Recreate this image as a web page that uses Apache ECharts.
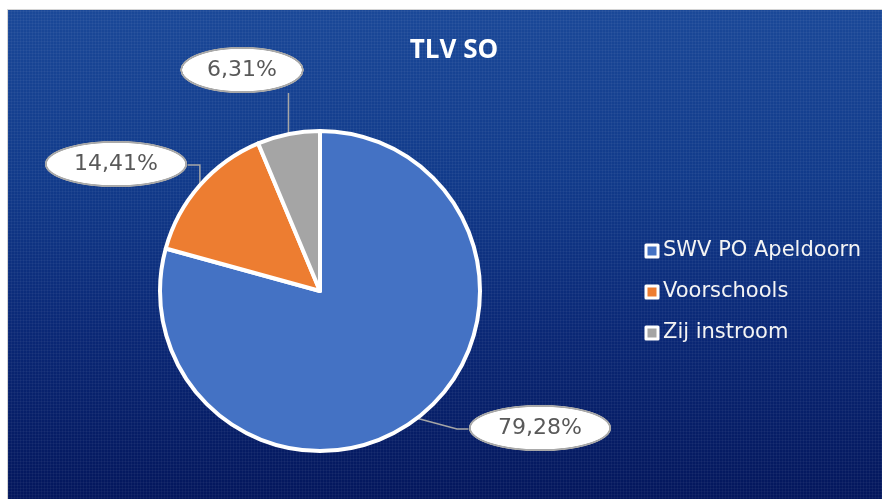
<!DOCTYPE html>
<html>
<head>
<meta charset="utf-8">
<script src="https://cdn.jsdelivr.net/npm/echarts@6/dist/echarts.min.js"></script>
<style>
  html, body { margin:0; padding:0; background:#ffffff; width:882px; height:499px; overflow:hidden; }
  #bg {
    position:absolute; left:7px; top:9px; right:-2px; bottom:-2px;
    border-left:1px solid #d4d4d4; border-top:1px solid #d4d4d4;
    background:
      repeating-linear-gradient(0deg, rgba(255,255,255,0.04) 0px, rgba(255,255,255,0.04) 1px, rgba(0,0,0,0) 1px, rgba(0,0,0,0) 3px),
      repeating-linear-gradient(90deg, rgba(255,255,255,0.04) 0px, rgba(255,255,255,0.04) 1px, rgba(0,0,0,0) 1px, rgba(0,0,0,0) 3px),
      linear-gradient(180deg, #1a4898 0%, #113a8a 35%, #0a2876 65%, #03165c 100%);
  }
  #chart { position:absolute; left:0; top:0; width:882px; height:499px; }
</style>
</head>
<body>
<div id="bg"></div>
<div id="chart"></div>
<script>
var categories = ['SWV PO Apeldoorn', 'Voorschools', 'Zij instroom'];
var values = [79.28, 14.41, 6.31];
var colors = ['#4472C4', '#ED7D31', '#A5A5A5'];
var titleText = 'TLV SO';

// label bubble centres (layout positions)
var labelCenters = [[540, 428], [116, 164], [242, 70]];
var labelWidths = [143, 143, 124];

function makeEllipse(w, h) {
  var s = 3;
  var c = document.createElement('canvas');
  c.width = w * s; c.height = h * s;
  var ctx = c.getContext('2d');
  ctx.scale(s, s);
  ctx.beginPath();
  ctx.ellipse(w / 2, h / 2, w / 2 - 1.3, h / 2 - 1.3, 0, 0, Math.PI * 2);
  ctx.fillStyle = '#ffffff';
  ctx.fill();
  ctx.lineWidth = 2;
  ctx.strokeStyle = '#a9a9a9';
  ctx.stroke();
  return c;
}

var dataItems = categories.map(function (name, i) {
  return {
    name: name,
    value: values[i],
    itemStyle: { color: colors[i] },
    label: {
      width: labelWidths[i],
      height: 47,
      backgroundColor: { image: makeEllipse(labelWidths[i], 47) }
    }
  };
});

var chart = echarts.init(document.getElementById('chart'), null, { renderer: 'canvas' });
chart.setOption({
  backgroundColor: 'transparent',
  animation: false,
  title: {
    text: titleText,
    left: 449,
    top: 33,
    textAlign: 'center',
    textStyle: { color: '#ffffff', fontFamily: 'Open Sans', fontWeight: 'bold', fontSize: 26 }
  },
  legend: {
    orient: 'vertical',
    left: 644.5,
    top: 240.5,
    padding: 0,
    icon: 'rect',
    itemWidth: 12,
    itemHeight: 12,
    itemGap: 20,
    itemTextGap: 6,
    itemStyle: { borderColor: '#ffffff', borderWidth: 3 },
    textStyle: { color: '#f4f4f4', fontFamily: 'DejaVu Sans', fontSize: 21, lineHeight: 21 },
    data: categories
  },
  series: [{
    type: 'pie',
    center: [320, 291],
    radius: 160,
    startAngle: 90,
    clockwise: true,
    itemStyle: { borderColor: '#ffffff', borderWidth: 4 },
    emphasis: { disabled: true },
    label: {
      show: true,
      position: 'outside',
      formatter: function (p) { return p.value.toFixed(2).replace('.', ',') + '%'; },
      color: '#595959',
      fontFamily: 'DejaVu Sans',
      fontSize: 22,
      lineHeight: 47,
      align: 'center',
      verticalAlign: 'middle'
    },
    labelLine: { show: true, length: 20, length2: 10, lineStyle: { color: '#a6a6a6', width: 1.5 } },
    labelLayout: function (params) {
      var i = params.dataIndex;
      var c = labelCenters[i];
      var w = labelWidths[i];
      var res = { x: c[0], y: c[1], align: 'center', verticalAlign: 'middle' };
      var pts = params.labelLinePoints;
      if (pts && pts.length) {
        var a = pts[0];
        if (i === 0) {
          res.labelLinePoints = [[a[0], a[1]], [457, c[1] + 1], [c[0] - w / 2, c[1] + 1]];
        } else if (i === 1) {
          res.labelLinePoints = [[a[0], a[1]], [a[0], c[1] + 1], [c[0] + w / 2, c[1] + 1]];
        } else {
          res.labelLinePoints = [[a[0], a[1]], [a[0], c[1] + 23.5], [a[0], c[1] + 23]];
        }
      }
      return res;
    },
    data: dataItems
  }]
});
</script>
</body>
</html>
